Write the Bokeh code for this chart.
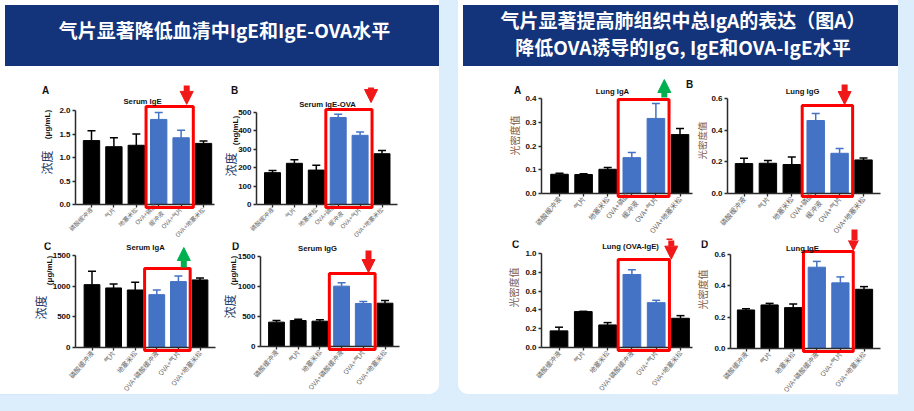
from math import pi
from bokeh.plotting import figure
from bokeh.models import (ColumnDataSource, Range1d, FixedTicker, NumeralTickFormatter, CustomJSTickFormatter,
                          LinearAxis, Whisker, TeeHead, BoxAnnotation, Arrow, NormalHead, Label, Div, Row,
                          Column, GlobalInlineStyleSheet)
from bokeh.embed import file_html
from bokeh.resources import INLINE

# ---------------- data ----------------
groups = ["磷酸缓冲液", "气片", "地塞米松", "OVA+磷酸缓冲液", "OVA+气片", "OVA+地塞米松"]
groups_wrapped = ["磷酸缓冲液", "气片", "地塞米松", "OVA+磷酸\n缓冲液", "OVA+气片", "OVA+地塞米松"]
highlight = ["OVA+磷酸缓冲液", "OVA+气片"]

serum_ige = [1.36, 1.23, 1.26, 1.81, 1.42, 1.30]
serum_ige_err = [0.21, 0.19, 0.24, 0.15, 0.16, 0.05]
serum_ige_ticks = [0, 0.5, 1.0, 1.5, 2.0]

serum_ige_ova = [173, 224, 187, 473, 376, 276]
serum_ige_ova_err = [12, 19, 26, 18, 18, 18]
serum_ige_ova_ticks = [0, 100, 200, 300, 400, 500]

serum_iga = [1025, 971, 938, 862, 1075, 1102]
serum_iga_err = [219, 65, 126, 76, 92, 33]
serum_iga_ticks = [0, 500, 1000, 1500]

serum_igg = [406, 433, 422, 1006, 717, 722]
serum_igg_err = [27, 23, 22, 55, 33, 45]
serum_igg_ticks = [0, 500, 1000, 1500]

lung_iga = [0.081, 0.080, 0.102, 0.151, 0.316, 0.248]
lung_iga_err = [0.004, 0.003, 0.007, 0.022, 0.063, 0.026]
lung_iga_ticks = [0, 0.1, 0.2, 0.3, 0.4]

lung_igg = [0.189, 0.191, 0.183, 0.461, 0.254, 0.212]
lung_igg_err = [0.033, 0.017, 0.048, 0.045, 0.031, 0.012]
lung_igg_ticks = [0, 0.2, 0.4, 0.6]

lung_ova_ige = [0.177, 0.382, 0.240, 0.777, 0.477, 0.311]
lung_ova_ige_err = [0.039, 0.003, 0.025, 0.050, 0.025, 0.028]
lung_ova_ige_ticks = [0, 0.2, 0.4, 0.6, 0.8, 1.0]

lung_ige = [0.246, 0.278, 0.261, 0.519, 0.419, 0.378]
lung_ige_err = [0.008, 0.010, 0.023, 0.037, 0.038, 0.017]
lung_ige_ticks = [0, 0.2, 0.4, 0.6]

left_title = "气片显著降低血清中IgE和IgE-OVA水平"
right_title_1 = "气片显著提高肺组织中总IgA的表达（图A）"
right_title_2 = "降低OVA诱导的IgG, IgE和OVA-IgE水平"

# ---------------- style ----------------
BLACK = "#000000"
BLUE = "#4472c4"
RED = "#ff0000"
ARED = "#f01818"
GREEN = "#00b050"
NAVY = "#13337b"
CONC_COLOR = "#253b6b"
OD_COLOR = "#7b5a4a"
AXIS = "#2b2b2b"
BAR_W = 0.73


def make_panel(vals, errs, ticks, fmt, title, letter, ylabels, wrap, g):
    """g holds the layout geometry, in page pixels."""
    ymax = ticks[-1]
    x0c, y0c, W, H = g["canvas"]
    X_ax, X1, P, X_end = g["xgeo"]
    Yt, Yb = g["ygeo"]

    def xd(px):
        return 0.5 + (px - X1) / P

    def yd(py):
        return (Yb - py) * ymax / (Yb - Yt)

    p = figure(width=W, height=H, x_range=Range1d(xd(x0c), xd(x0c + W)),
               y_range=Range1d(yd(y0c + H), yd(y0c)),
               x_axis_location=None, y_axis_location=None,
               output_backend="svg", toolbar_location=None,
               min_border_left=0, min_border_right=0, min_border_top=0, min_border_bottom=0,
               background_fill_color="white", border_fill_color="white", outline_line_color=None)
    p.xgrid.visible = False
    p.ygrid.visible = False

    xs = [i + 0.5 for i in range(len(groups))]
    colors = [BLUE if gname in highlight else BLACK for gname in groups]
    for col in (BLACK, BLUE):
        wx = [x for x, c in zip(xs, colors) if c == col]
        lo = [v for v, c in zip(vals, colors) if c == col]
        hi = [v + e for v, e, c in zip(vals, errs, colors) if c == col]
        p.add_layout(Whisker(source=ColumnDataSource(dict(x=wx, lower=lo, upper=hi)), base="x",
                             lower="lower", upper="upper", dimension="height",
                             line_color=col, line_width=1.5, lower_head=None,
                             upper_head=TeeHead(size=8, line_color=col, line_width=1.5)))
    src = ColumnDataSource(dict(x=xs, top=vals, color=colors))
    p.vbar(x="x", top="top", width=BAR_W, fill_color="color", line_color="color", source=src)

    names = groups_wrapped if wrap else groups
    xa = LinearAxis(fixed_location=0, bounds=(xd(X_ax), xd(X_end)),
                    ticker=FixedTicker(ticks=xs, minor_ticks=[]),
                    formatter=CustomJSTickFormatter(args=dict(names=names), code="""
                        const i = Math.round(tick - 0.5);
                        return (i >= 0 && i < names.length) ? names[i] : "";
                    """))
    ya = LinearAxis(fixed_location=xd(X_ax), bounds=(0, ymax),
                    ticker=FixedTicker(ticks=ticks, minor_ticks=[]),
                    formatter=NumeralTickFormatter(format=fmt))
    for ax in (xa, ya):
        ax.axis_line_color = AXIS
        ax.axis_line_width = 1.5
        ax.major_tick_line_color = AXIS
        ax.major_tick_line_width = 1.3
        ax.major_tick_out = 3
        ax.major_tick_in = 0
        ax.minor_tick_out = 0
        ax.minor_tick_in = 0
    ya.major_label_text_font = "Liberation Sans"
    ya.major_label_text_font_style = "bold"
    ya.major_label_text_font_size = "8px"
    ya.major_label_text_color = "#111111"
    ya.major_label_standoff = 2
    xa.major_label_orientation = g.get("xangle", 50) * pi / 180
    xa.major_label_text_font = "Noto Sans CJK SC"
    xa.major_label_text_font_size = g.get("xfont", "7px")
    xa.major_label_text_color = "#666666"
    xa.major_label_standoff = 1
    p.add_layout(xa, "below")
    p.add_layout(ya, "left")

    # highlight box around the OVA+磷酸缓冲液 / OVA+气片 bars
    hi_idx = [i for i, gname in enumerate(groups) if gname in highlight]
    p.add_layout(BoxAnnotation(left=min(hi_idx) + 0.5 - BAR_W / 2 - 0.2,
                               right=max(hi_idx) + 0.5 + BAR_W / 2 + 0.18,
                               bottom=yd(Yb + 3), top=g["box_top"],
                               fill_alpha=0, line_color=RED, line_alpha=1.0, line_width=3))
    # arrow
    ax_, y0, y1, acol = g["arrow"]
    p.add_layout(Arrow(x_start=ax_, y_start=y0, x_end=ax_, y_end=y1, line_color=acol, line_width=6,
                       end=NormalHead(size=13, fill_color=acol, line_color=acol, line_width=1)))

    def lab(text, rx, ry, **kw):
        p.add_layout(Label(x=rx - x0c, y=y0c + H - ry, x_units="screen", y_units="screen", text=text,
                           text_align="center", text_baseline="middle", **kw))

    def shaft(rx, ry, color):
        # upper piece of an arrow whose tip lies in the panel below this canvas
        p.add_layout(Arrow(x_start=rx - x0c, y_start=y0c + H - ry, x_end=rx - x0c, y_end=-4,
                           start_units="screen", end_units="screen", end=None,
                           line_color=color, line_width=6))

    tx, ty = g["title"]
    lab(title, tx, ty, text_font="Liberation Sans", text_font_style="bold", text_font_size="7.7px",
        text_color="#111111")
    if letter is not None:
        lx, ly = g["letter"]
        lab(letter, lx, ly, text_font="Liberation Sans", text_font_style="bold", text_font_size="10px",
            text_color="#111111")
    for text, rx, ry, size, color, font, style in ylabels:
        lab(text, rx, ry, angle=pi / 2, text_font=font, text_font_style=style, text_font_size=size,
            text_color=color)
    return p, lab, shaft


def conc(unit, upos, mpos):
    return [(unit, upos[0], upos[1], "8px", "#111111", "Liberation Sans", "bold"),
            ("浓度", mpos[0], mpos[1], "12px", CONC_COLOR, "Noto Sans CJK SC", "normal")]


def od(pos, size="10px"):
    return [("光密度值", pos[0], pos[1], size, OD_COLOR, "Noto Sans CJK SC", "normal")]


TOP = 69                 # bottom of the headers (page px)
L1, L2 = 171, 162        # left card row heights
R1, R2 = 169, 164        # right card row heights

pA, _, _ = make_panel(serum_ige, serum_ige_err, serum_ige_ticks, "0.0", "Serum IgE", "A",
                      conc("(μg/mL)", (55, 122), (54, 160)), True,
                      dict(canvas=(8, TOP, 220, L1), xgeo=(83, 99, 22.4, 222), ygeo=(108, 202),
                           title=(150, 99), letter=(53, 88), box_top=2.085, arrow=(4.75, 2.53, 2.13, ARED),
                           xfont="6px", xangle=45))
pB, _, _ = make_panel(serum_ige_ova, serum_ige_ova_err, serum_ige_ova_ticks, "0", "Serum IgE-OVA", "B",
                      conc("(ng/mL)", (243, 128), (238, 162)), True,
                      dict(canvas=(228, TOP, 219, L1), xgeo=(264, 280, 21.9, 405), ygeo=(110, 202),
                           title=(335, 102), letter=(242, 88), box_top=516, arrow=(5.0, 636, 554, ARED),
                           xfont="6px", xangle=45))
pC, _, _ = make_panel(serum_iga, serum_iga_err, serum_iga_ticks, "0", "Serum IgA", "C",
                      conc("(μg/mL)", (57, 268), (48, 305)), False,
                      dict(canvas=(8, TOP + L1, 220, L2), xgeo=(83, 99.5, 21.6, 223), ygeo=(253, 345),
                           title=(153, 245), letter=(55, 244), box_top=1288,
                           arrow=(4.75, 1304, 1630, GREEN), xfont="6.7px"))
pD, _, _ = make_panel(serum_igg, serum_igg_err, serum_igg_ticks, "0", "Serum IgG", "D",
                      conc("(μg/mL)", (241, 268), (237, 304)), False,
                      dict(canvas=(228, TOP + L1, 219, L2), xgeo=(268, 284, 21.7, 407), ygeo=(254, 344),
                           title=(325, 246), letter=(243, 244), box_top=1217,
                           arrow=(4.74, 1600, 1233, ARED), xfont="6.7px"))

qA, qA_lab, qA_shaft = make_panel(lung_iga, lung_iga_err, lung_iga_ticks, "0.0", "Lung IgA", "A",
                                  od((522, 133)), True,
                                  dict(canvas=(466, TOP, 237, R1), xgeo=(549, 567, 24.1, 700),
                                       ygeo=(96, 191), title=(620, 89), letter=(525, 88), box_top=0.396,
                                       arrow=(4.85, 0.404, 0.48, GREEN)))
# the letter of the neighbouring panel B sits over this canvas
qA_lab("B", 697, 82, text_font="Liberation Sans", text_font_style="bold", text_font_size="10px",
       text_color="#111111")
qB, _, qB_shaft = make_panel(lung_igg, lung_igg_err, lung_igg_ticks, "0.0", "Lung IgG", None,
                             od((709.5, 138), "9.5px"), True,
                             dict(canvas=(703, TOP, 203, R1), xgeo=(735, 751.5, 23.9, 888), ygeo=(96, 191),
                                  title=(810, 89), box_top=0.556, arrow=(4.71, 0.688, 0.562, ARED)))
qC, _, _ = make_panel(lung_ova_ige, lung_ova_ige_err, lung_ova_ige_ticks, "0.0", "Lung (OVA-IgE)", "C",
                      od((521, 285)), False,
                      dict(canvas=(466, TOP + R1, 237, R2), xgeo=(549, 566.5, 24.3, 700), ygeo=(251, 345),
                           title=(638, 244), letter=(523, 242), box_top=0.936,
                           arrow=(5.12, 1.16, 0.94, ARED), xfont="6.7px"))
qD, _, _ = make_panel(lung_ige, lung_ige_err, lung_ige_ticks, "0.0", "Lung IgE", "D",
                      od((710, 287)), False,
                      dict(canvas=(703, TOP + R1, 203, R2), xgeo=(738, 753.5, 23.6, 888), ygeo=(252, 346),
                           title=(810, 246), letter=(712, 242), box_top=0.619,
                           arrow=(5.05, 0.76, 0.626, ARED), xfont="6.7px"))
# upper ends of the C and D arrows reach into the panels above
qA_shaft(677, 236, ARED)
qB_shaft(862, 227, ARED)

HDR = ("width:{w}px;height:61px;background:" + NAVY + ";color:#ffffff;"
       "font-family:'Noto Sans CJK SC',sans-serif;font-weight:bold;font-size:19px;"
       "text-align:center;box-sizing:border-box;")
hdr_left = Div(text='<div style="' + HDR.format(w=439) + 'line-height:22px;padding-top:14px;">'
               + left_title + '</div>', width=439, height=61)
hdr_right = Div(text='<div style="' + HDR.format(w=440) + 'line-height:27px;padding-top:1px;">'
                + right_title_1 + '<br>' + right_title_2 + '</div>', width=440, height=61)

left_card = Column(children=[hdr_left, Row(children=[pA, pB]), Row(children=[pC, pD])],
                   width=439, height=394,
                   styles={"background-color": "white", "border-radius": "0 0 10px 0", "overflow": "hidden"})
right_card = Column(children=[hdr_right, Row(children=[qA, qB]), Row(children=[qC, qD])],
                    width=440, height=394,
                    styles={"background-color": "white", "border-radius": "0 0 0 10px", "overflow": "hidden"})

root = Row(children=[left_card, right_card], spacing=19, width=898, height=395,
           styles={"background": "linear-gradient(90deg, #d3e9fb 0%, #e4f0fc 100%)"},
           stylesheets=[GlobalInlineStyleSheet(css="body{background:#dcedfb;}")])

open("out.html", "w").write(file_html(root, INLINE, title="chart"))
